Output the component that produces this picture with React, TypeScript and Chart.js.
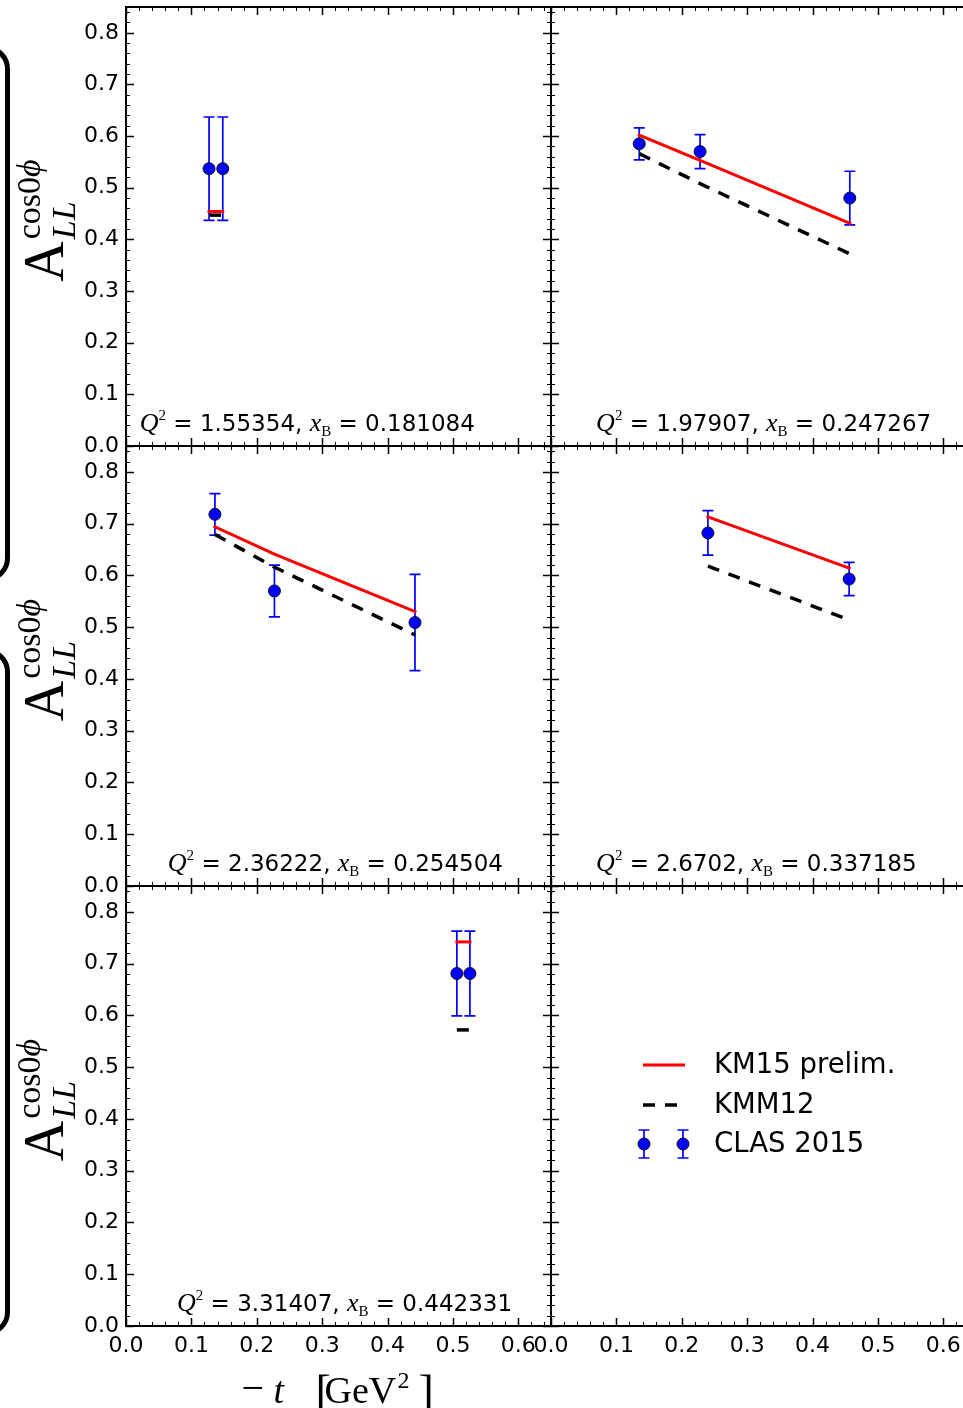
import React, { useEffect, useRef } from 'react';
import { Chart, registerables } from 'chart.js';

Chart.register(...registerables);

// ---------------- data ----------------
const xTickValues = [0.0, 0.1, 0.2, 0.3, 0.4, 0.5, 0.6];
const yTickValues = [0.0, 0.1, 0.2, 0.3, 0.4, 0.5, 0.6, 0.7, 0.8];
const tRange = [0, 0.65];
const aRange = [0, 0.85];

const panelQ2 = ['1.55354', '1.97907', '2.36222', '2.6702', '3.31407'];
const panelXB = ['0.181084', '0.247267', '0.254504', '0.337185', '0.442331'];
const panelTextT = [0.021, 0.069, 0.064, 0.069, 0.078];

const p1T = [0.127, 0.148];
const p1Clas = [0.537, 0.537];
const p1Err = [0.1, 0.1];
const p1KM15 = [0.454, 0.454];
const p1KMM12 = [0.447, 0.447];

const p2T = [0.135, 0.228, 0.457];
const p2Clas = [0.585, 0.57, 0.48];
const p2Err = [0.031, 0.033, 0.052];
const p2KM15 = [0.602, 0.553, 0.431];
const p2KMM12 = [0.566, 0.508, 0.372];

const p3T = [0.136, 0.227, 0.442];
const p3Clas = [0.718, 0.57, 0.509];
const p3Err = [0.04, 0.05, 0.093];
const p3KM15 = [0.694, 0.641, 0.53];
const p3KMM12 = [0.679, 0.616, 0.485];

const p4T = [0.24, 0.456];
const p4Clas = [0.682, 0.593];
const p4Err = [0.043, 0.032];
const p4KM15 = [0.713, 0.614];
const p4KMM12 = [0.618, 0.514];

const p5T = [0.506, 0.526];
const p5Clas = [0.681, 0.681];
const p5Err = [0.082, 0.082];
const p5KM15 = [0.742, 0.742];
const p5KMM12 = [0.572, 0.572];

const legendLabels = ['KM15 prelim.', 'KMM12', 'CLAS 2015'];

// ---------------- layout / style ----------------
const PAGE_W = 963;
const PAGE_H = 1408;
const CANVAS_W = 1000;
const COL_L = [126, 551];
const COL_R = [551, 976];
const ROW_T = [6, 446, 886];
const ROW_B = [446, 886, 1326];
const Y_W = 60;
const X_H = 40;

const RED = '#ff0000';
const BLUE = '#0000ff';
const BLACK = '#000000';
const SANS = '"DejaVu Sans"';
const SERIF = '"Liberation Serif"';
const DASH = [12, 10];
const CAP = 5.5;

type Spec = {
  col: number;
  row: number;
  idx?: number;
  t?: number[];
  clas?: number[];
  err?: number[];
  km15?: number[];
  kmm12?: number[];
  legend?: boolean;
};

const specs: Spec[] = [
  { col: 0, row: 0, idx: 0, t: p1T, clas: p1Clas, err: p1Err, km15: p1KM15, kmm12: p1KMM12 },
  { col: 1, row: 0, idx: 1, t: p2T, clas: p2Clas, err: p2Err, km15: p2KM15, kmm12: p2KMM12 },
  { col: 0, row: 1, idx: 2, t: p3T, clas: p3Clas, err: p3Err, km15: p3KM15, kmm12: p3KMM12 },
  { col: 1, row: 1, idx: 3, t: p4T, clas: p4Clas, err: p4Err, km15: p4KM15, kmm12: p4KMM12 },
  { col: 0, row: 2, idx: 4, t: p5T, clas: p5Clas, err: p5Err, km15: p5KM15, kmm12: p5KMM12 },
  { col: 1, row: 2, legend: true },
];

type Run = { text: string; font: string; dy?: number };
function drawRuns(ctx: CanvasRenderingContext2D, x: number, y: number, runs: Run[]) {
  for (const r of runs) {
    ctx.font = r.font;
    ctx.fillText(r.text, x, y + (r.dy || 0));
    x += ctx.measureText(r.text).width;
  }
  return x;
}

function drawErrorBar(ctx: CanvasRenderingContext2D, px: number, yHi: number, yLo: number) {
  ctx.beginPath();
  ctx.moveTo(px, yHi);
  ctx.lineTo(px, yLo);
  ctx.moveTo(px - CAP, yHi);
  ctx.lineTo(px + CAP, yHi);
  ctx.moveTo(px - CAP, yLo);
  ctx.lineTo(px + CAP, yLo);
  ctx.stroke();
}

function drawMarker(ctx: CanvasRenderingContext2D, px: number, py: number) {
  ctx.beginPath();
  ctx.arc(px, py, 6, 0, Math.PI * 2);
  ctx.fillStyle = BLUE;
  ctx.fill();
  ctx.lineWidth = 1;
  ctx.strokeStyle = '#111';
  ctx.stroke();
}

const errorBarPlugin = {
  id: 'errorBars',
  beforeDatasetsDraw(chart: any) {
    const { ctx, scales } = chart;
    const x = scales.x;
    const y = scales.y;
    chart.data.datasets.forEach((ds: any) => {
      if (!ds.errors) return;
      ctx.save();
      ctx.strokeStyle = BLUE;
      ctx.lineWidth = 1.7;
      ds.data.forEach((pt: any, i: number) => {
        const px = x.getPixelForValue(pt.x);
        drawErrorBar(ctx, px, y.getPixelForValue(pt.y + ds.errors[i]), y.getPixelForValue(pt.y - ds.errors[i]));
      });
      ctx.restore();
    });
  },
};

const framePlugin = {
  id: 'frameTicks',
  afterDatasetsDraw(chart: any) {
    const { ctx, chartArea: a, scales } = chart;
    const x = scales.x;
    const y = scales.y;
    ctx.save();
    ctx.strokeStyle = BLACK;
    const line = (x1: number, y1: number, x2: number, y2: number) => {
      ctx.beginPath();
      ctx.moveTo(x1, y1);
      ctx.lineTo(x2, y2);
      ctx.stroke();
    };
    for (let i = 0; i <= 32; i++) {
      const v = i * 0.02;
      const major = i % 5 === 0;
      const len = major ? 8 : 4;
      ctx.lineWidth = major ? 1.5 : 1;
      const px = Math.round(x.getPixelForValue(v)) + 0.5;
      line(px, a.bottom, px, a.bottom - len);
      line(px, a.top, px, a.top + len);
    }
    for (let i = 0; i <= 42; i++) {
      const v = i * 0.02;
      const major = i % 5 === 0;
      const len = major ? 8 : 4;
      ctx.lineWidth = major ? 1.5 : 1;
      const py = Math.round(y.getPixelForValue(v)) + 0.5;
      line(a.left, py, a.left + len, py);
      line(a.right, py, a.right - len, py);
    }
    ctx.lineWidth = 2;
    ctx.strokeRect(a.left, a.top, a.right - a.left, a.bottom - a.top);
    ctx.restore();
  },
};

function makeLabelPlugin(spec: Spec) {
  return {
    id: 'panelText',
    afterDraw(chart: any) {
      const { ctx, chartArea: a, scales } = chart;
      const x = scales.x;
      const y = scales.y;
      ctx.save();
      ctx.fillStyle = BLACK;
      ctx.textAlign = 'left';
      ctx.textBaseline = 'alphabetic';
      if (spec.idx !== undefined) {
        const i = spec.idx;
        drawRuns(ctx, x.getPixelForValue(panelTextT[i]), y.getPixelForValue(0.029), [
          { text: 'Q', font: `italic 26px ${SERIF}` },
          { text: '2', font: `15px ${SERIF}`, dy: -11 },
          { text: ` = ${panelQ2[i]}, `, font: `23px ${SANS}` },
          { text: 'x', font: `italic 26px ${SERIF}` },
          { text: 'B', font: `15px ${SERIF}`, dy: 5 },
          { text: ` = ${panelXB[i]}`, font: `23px ${SANS}` },
        ]);
      }
      // y-axis label on the left column
      if (spec.col === 0) {
        const cy = (a.top + a.bottom) / 2 - 6;
        const cx = 63;
        ctx.translate(cx, cy);
        ctx.rotate(-Math.PI / 2);
        const fA = `56px ${SERIF}`;
        const fSub = `italic 34px ${SERIF}`;
        const fSup = `34px ${SERIF}`;
        const fSupI = `italic 34px ${SERIF}`;
        ctx.font = fA;
        const wA = ctx.measureText('A').width;
        ctx.font = fSub;
        const wLL = ctx.measureText('LL').width;
        ctx.font = fSup;
        const wCos = ctx.measureText('cos0').width;
        ctx.font = fSupI;
        const wPhi = ctx.measureText('\u03d5').width;
        const total = wA + 2 + Math.max(wLL, wCos + wPhi);
        const x0 = -total / 2;
        ctx.font = fA;
        ctx.fillText('A', x0, 0);
        ctx.font = fSub;
        ctx.fillText('LL', x0 + wA + 2, 12);
        ctx.font = fSup;
        ctx.fillText('cos0', x0 + wA + 2, -23);
        ctx.font = fSupI;
        ctx.fillText('\u03d5', x0 + wA + 2 + wCos, -23);
        ctx.setTransform(1, 0, 0, 1, 0, 0);
      }
      // x-axis label under bottom-left panel
      if (spec.col === 0 && spec.row === 2) {
        const c = (a.left + a.right) / 2;
        const base = 1403;
        ctx.font = `40px ${SERIF}`;
        ctx.fillText('\u2212', c - 97, base - 2);
        ctx.font = `italic 38px ${SERIF}`;
        ctx.fillText('t', c - 65, base);
        ctx.font = `46px ${SERIF}`;
        ctx.fillText('[', c - 23, base + 4);
        ctx.font = `38px ${SERIF}`;
        ctx.fillText('GeV', c - 14, base);
        ctx.font = `24px ${SERIF}`;
        ctx.fillText('2', c + 59, base - 15);
        ctx.font = `46px ${SERIF}`;
        ctx.fillText(']', c + 80, base + 4);
      }
      // legend in the empty panel
      if (spec.legend) {
        const L = a.left;
        const T = a.top;
        const rows = [T + 179, T + 219, T + 258];
        ctx.lineWidth = 3;
        ctx.strokeStyle = RED;
        ctx.lineCap = 'butt';
        ctx.beginPath();
        ctx.moveTo(L + 92, rows[0]);
        ctx.lineTo(L + 134, rows[0]);
        ctx.stroke();
        ctx.strokeStyle = BLACK;
        ctx.lineWidth = 3.5;
        ctx.setLineDash(DASH);
        ctx.beginPath();
        ctx.moveTo(L + 92, rows[1]);
        ctx.lineTo(L + 134, rows[1]);
        ctx.stroke();
        ctx.setLineDash([]);
        ctx.strokeStyle = BLUE;
        ctx.lineWidth = 1.7;
        [L + 93, L + 132].forEach((px) => {
          drawErrorBar(ctx, px, rows[2] - 14, rows[2] + 14);
        });
        [L + 93, L + 132].forEach((px) => drawMarker(ctx, px, rows[2]));
        ctx.fillStyle = BLACK;
        ctx.textBaseline = 'middle';
        ctx.font = `27.5px ${SANS}`;
        legendLabels.forEach((lab, i) => ctx.fillText(lab, L + 163, rows[i] + 1));
      }
      ctx.restore();
    },
  };
}

function pts(t: number[] = [], a: number[] = []) {
  return t.map((v, i) => ({ x: v, y: a[i] }));
}

function makeConfig(spec: Spec): any {
  const { col, row } = spec;
  const datasets: any[] = spec.legend
    ? []
    : [
        {
          label: legendLabels[2],
          data: pts(spec.t, spec.clas),
          errors: spec.err,
          showLine: false,
          pointRadius: 6,
          pointBackgroundColor: BLUE,
          pointBorderColor: '#111',
          pointBorderWidth: 1,
          order: 0,
        },
        {
          label: legendLabels[0],
          data: pts(spec.t, spec.km15),
          showLine: true,
          borderColor: RED,
          borderWidth: 3,
          borderCapStyle: 'square',
          pointRadius: 0,
          fill: false,
          order: 1,
        },
        {
          label: legendLabels[1],
          data: pts(spec.t, spec.kmm12),
          showLine: true,
          borderColor: BLACK,
          borderWidth: 3.5,
          borderDash: DASH,
          pointRadius: 0,
          fill: false,
          order: 2,
        },
      ];
  const zeroPad = (s: any) => {
    s.paddingTop = 0;
    s.paddingBottom = 0;
    s.paddingLeft = 0;
    s.paddingRight = 0;
  };
  return {
    type: 'scatter',
    data: { datasets },
    plugins: [errorBarPlugin, framePlugin, makeLabelPlugin(spec)],
    options: {
      responsive: false,
      animation: false,
      devicePixelRatio: 1,
      events: [],
      layout: {
        padding: {
          left: COL_L[col] - Y_W,
          right: CANVAS_W - COL_R[col],
          top: ROW_T[row],
          bottom: PAGE_H - ROW_B[row] - X_H,
        },
      },
      plugins: { legend: { display: false }, tooltip: { enabled: false } },
      scales: {
        x: {
          type: 'linear',
          position: 'bottom',
          min: tRange[0],
          max: tRange[1],
          grid: { display: false, drawTicks: false },
          border: { display: false },
          ticks: {
            display: row === 2,
            autoSkip: false,
            maxRotation: 0,
            color: BLACK,
            padding: 7,
            font: { family: 'DejaVu Sans', size: 22 },
            callback: (v: number) => Number(v).toFixed(1),
          },
          afterBuildTicks: (s: any) => {
            s.ticks = xTickValues.map((v) => ({ value: v }));
          },
          afterFit: (s: any) => {
            s.height = X_H;
            zeroPad(s);
          },
        },
        y: {
          type: 'linear',
          position: 'left',
          min: aRange[0],
          max: aRange[1],
          grid: { display: false, drawTicks: false },
          border: { display: false },
          ticks: {
            display: col === 0,
            autoSkip: false,
            color: BLACK,
            padding: 7,
            font: { family: 'DejaVu Sans', size: 22 },
            callback: (v: number) => Number(v).toFixed(1),
          },
          afterBuildTicks: (s: any) => {
            s.ticks = yTickValues.map((v) => ({ value: v }));
          },
          afterFit: (s: any) => {
            s.width = Y_W;
            zeroPad(s);
          },
        },
      },
    },
  };
}

function Panel({ spec }: { spec: Spec }) {
  const ref = useRef<HTMLCanvasElement>(null);
  useEffect(() => {
    const chart = new Chart(ref.current as HTMLCanvasElement, makeConfig(spec));
    return () => chart.destroy();
  }, [spec]);
  return (
    <canvas
      ref={ref}
      width={CANVAS_W}
      height={PAGE_H}
      style={{ position: 'absolute', left: 0, top: 0, width: CANVAS_W, height: PAGE_H }}
    />
  );
}

export default function App() {
  return (
    <div
      style={{
        position: 'absolute',
        left: 0,
        top: 0,
        width: PAGE_W,
        height: PAGE_H,
        overflow: 'hidden',
        background: '#ffffff',
      }}
    >
      <div
        style={{
          position: 'absolute',
          left: -45,
          top: 45,
          width: 45,
          height: 527,
          border: '5px solid #000',
          borderRadius: 24,
        }}
      />
      <div
        style={{
          position: 'absolute',
          left: -45,
          top: 648,
          width: 45,
          height: 678,
          border: '5px solid #000',
          borderRadius: 24,
        }}
      />
      {specs.map((s, i) => (
        <Panel key={i} spec={s} />
      ))}
    </div>
  );
}
